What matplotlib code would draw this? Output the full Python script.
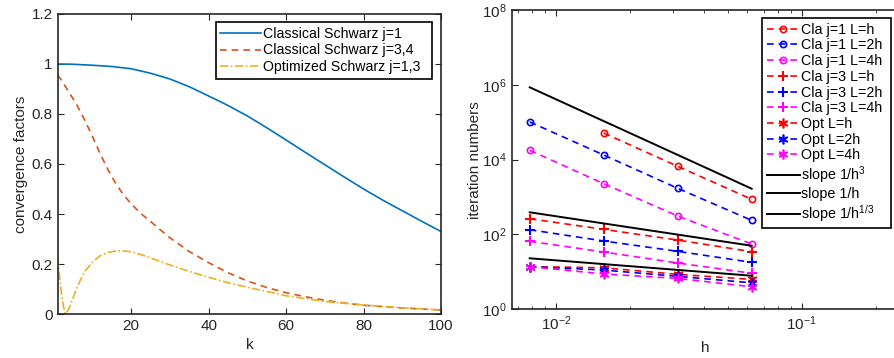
import numpy as np
import matplotlib
matplotlib.use("Agg")
import matplotlib.pyplot as plt

plt.rcParams['font.family'] = ['Liberation Sans', 'DejaVu Sans']
plt.rcParams['mathtext.fontset'] = 'custom'
plt.rcParams['mathtext.rm'] = 'Liberation Sans'
plt.rcParams['mathtext.it'] = 'Liberation Sans'
plt.rcParams['font.size'] = 10

GRAY = '#262626'
MAG = '#FF00FF'

# left panel: convergence factors
k_cla1 = [1, 5, 10, 15, 20, 25, 30, 35, 40, 45, 50, 55, 60, 65, 70, 75, 80, 85, 90, 95, 100]
rho_cla1 = [1.0, 0.999, 0.995, 0.99, 0.981, 0.963, 0.94, 0.909, 0.872, 0.834, 0.792,
            0.745, 0.696, 0.646, 0.597, 0.548, 0.5, 0.455, 0.413, 0.371, 0.33]
k_cla3 = [1, 2, 4, 6, 8, 10, 12, 14, 16, 18, 20, 22.5, 25, 27.5, 30, 35, 40, 45, 50,
          55, 60, 65, 70, 75, 80, 90, 100]
rho_cla3 = [0.956, 0.935, 0.885, 0.835, 0.775, 0.71, 0.64, 0.577, 0.522, 0.477, 0.44,
            0.402, 0.37, 0.337, 0.305, 0.25, 0.205, 0.165, 0.132, 0.106, 0.085, 0.069,
            0.055, 0.044, 0.035, 0.024, 0.016]
k_opt = [1, 1.5, 2, 2.5, 3, 3.5, 4, 5, 6, 7, 8, 10, 12, 14, 16, 17.5, 19, 21, 24, 27,
         30, 35, 40, 45, 50, 60, 70, 80, 90, 100]
rho_opt = [0.229, 0.15, 0.08, 0.03, 0.0, 0.01, 0.025, 0.065, 0.105, 0.14, 0.17, 0.208,
           0.233, 0.246, 0.252, 0.253, 0.251, 0.245, 0.23, 0.213, 0.196, 0.17, 0.147,
           0.125, 0.107, 0.073, 0.05, 0.036, 0.025, 0.016]
left_labels = ['Classical Schwarz j=1', 'Classical Schwarz j=3,4', 'Optimized Schwarz j=1,3']
left_yticks = [0, 0.2, 0.4, 0.6, 0.8, 1, 1.2]
left_yticklabels = ['0', '0.2', '0.4', '0.6', '0.8', '1', '1.2']

# right panel: iteration numbers
h = [1/128, 1/64, 1/32, 1/16]
h_j1L1 = [1/64, 1/32, 1/16]
it_cla1_L1 = [51600, 6640, 872]
it_cla1_L2 = [102000, 13300, 1715, 239]
it_cla1_L4 = [17800, 2277, 312, 55.6]
it_cla3_L1 = [264, 137, 71, 34.7]
it_cla3_L2 = [134, 67, 35.5, 18]
it_cla3_L4 = [65.7, 34, 17.3, 9.2]
it_opt_L1 = [13.8, 12.9, 8.6, 6.3]
it_opt_L2 = [13.8, 11.2, 7.6, 5.1]
it_opt_L4 = [13.8, 8.8, 6.7, 4.0]
h_slope = [1/128, 1/16]
slope3 = [8.6e5, 1675]
slope1 = [392, 50]
slope13 = [23.1, 7.9]

fig = plt.figure(figsize=(8.94, 3.58), dpi=100)

ax1 = fig.add_axes([0.0645, 0.1229, 0.4288, 0.838])
ax1.plot(k_cla1, rho_cla1, color='#0072BD', lw=1.2, label=left_labels[0])
ax1.plot(k_cla3, rho_cla3, color='#D95319', lw=1.2, ls=(0, (4, 3)), label=left_labels[1])
ax1.plot(k_opt, rho_opt, color='#EDB120', lw=1.2, ls=(0, (5, 1.5, 1, 1.5)), label=left_labels[2])
ax1.set_xlim(1, 100)
ax1.set_ylim(0, 1.2)
ax1.set_xticks([20, 40, 60, 80, 100])
ax1.set_yticks(left_yticks)
ax1.set_yticklabels(left_yticklabels)
ax1.set_xlabel('k', fontsize=11, color=GRAY, labelpad=4)
ax1.set_ylabel('convergence factors', fontsize=11, color=GRAY, labelpad=3)
# trailing spaces give the wide right margin of the original legend box
hl1, lb1 = ax1.get_legend_handles_labels()
leg1 = ax1.legend(hl1, [s + '  ' for s in lb1], loc='upper right',
                  bbox_to_anchor=(0.977, 0.972), fancybox=False,
                  edgecolor='black', framealpha=1, handlelength=2.9, handletextpad=0.1,
                  labelspacing=0.2, borderpad=0.3, borderaxespad=0, fontsize=10.2)
leg1.get_frame().set_linewidth(1.2)

ax2 = fig.add_axes([0.5724, 0.136, 0.4339, 0.836])
ast = (6, 2, 0)
ax2.loglog(h_j1L1, it_cla1_L1, '--o', color='r', mfc='none', ms=4.5, mew=1.2, lw=1.2, label='Cla j=1 L=h')
ax2.loglog(h, it_cla1_L2, '--o', color='b', mfc='none', ms=4.5, mew=1.2, lw=1.2, label='Cla j=1 L=2h')
ax2.loglog(h, it_cla1_L4, '--o', color=MAG, mfc='none', ms=4.5, mew=1.2, lw=1.2, label='Cla j=1 L=4h')
ax2.loglog(h, it_cla3_L1, '--+', color='r', ms=6.5, mew=1.5, lw=1.2, label='Cla j=3 L=h')
ax2.loglog(h, it_cla3_L2, '--+', color='b', ms=6.5, mew=1.5, lw=1.2, label='Cla j=3 L=2h')
ax2.loglog(h, it_cla3_L4, '--+', color=MAG, ms=6.5, mew=1.5, lw=1.2, label='Cla j=3 L=4h')
ax2.loglog(h, it_opt_L1, '--', marker=ast, color='r', ms=7, mew=1.2, lw=1.2, label='Opt L=h')
ax2.loglog(h, it_opt_L2, '--', marker=ast, color='b', ms=7, mew=1.2, lw=1.2, label='Opt L=2h')
ax2.loglog(h, it_opt_L4, '--', marker=ast, color=MAG, ms=7, mew=1.2, lw=1.2, label='Opt L=4h')
ax2.loglog(h_slope, slope3, 'k-', lw=1.4, label='slope 1/h$^{3}$')
ax2.loglog(h_slope, slope1, 'k-', lw=1.4, label='slope 1/h')
ax2.loglog(h_slope, slope13, 'k-', lw=1.4, label='slope 1/h$^{1/3}$')
for ln in ax2.get_lines():
    if ln.get_linestyle() == '--':
        ln.set_dashes((4, 3))
ax2.set_xlim(0.0066, 0.25)
ax2.set_ylim(1, 1e8)
ax2.set_yticks([1, 1e2, 1e4, 1e6, 1e8])
ax2.yaxis.set_minor_locator(matplotlib.ticker.NullLocator())
ax2.set_xlabel('h', fontsize=11, color=GRAY, labelpad=6)
ax2.set_ylabel('iteration numbers', fontsize=11, color=GRAY, labelpad=0)
hl2, lb2 = ax2.get_legend_handles_labels()
leg2 = ax2.legend(hl2, [s + ' ' for s in lb2], loc='upper right',
                  bbox_to_anchor=(0.977, 0.972), fancybox=False,
                  edgecolor='black', framealpha=1, handlelength=2.3, handletextpad=0.1,
                  labelspacing=0.12, borderpad=0.3, borderaxespad=0, fontsize=10.3)
leg2.get_frame().set_linewidth(1.2)

for ax in (ax1, ax2):
    ax.tick_params(which='both', direction='in', top=True, right=True, colors=GRAY,
                   labelsize=11)
    ax.tick_params(which='major', length=4)
    ax.tick_params(which='minor', length=2.5)
    for s in ax.spines.values():
        s.set_color(GRAY)
        s.set_linewidth(1.2)

fig.savefig('out.png', dpi=100)
